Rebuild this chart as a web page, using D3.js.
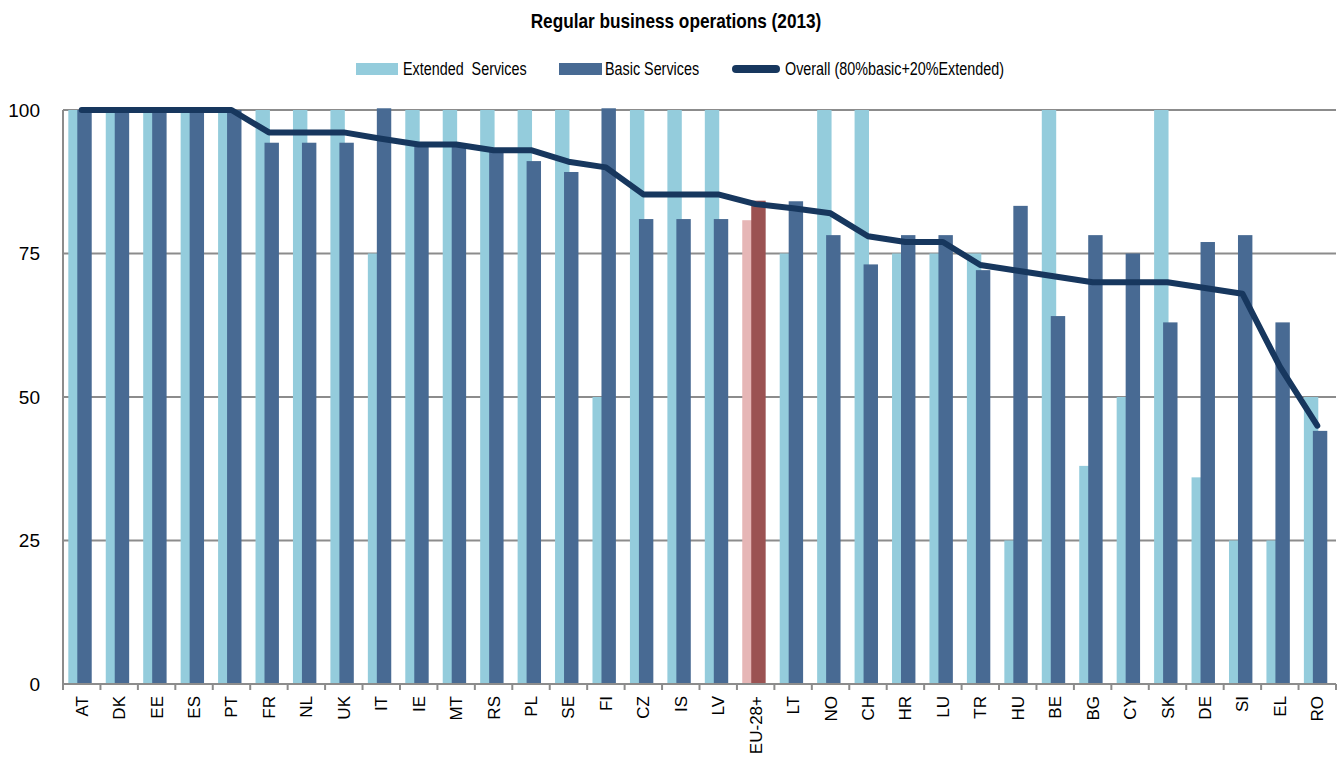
<!DOCTYPE html>
<html>
<head>
<meta charset="utf-8">
<script src="https://cdn.jsdelivr.net/npm/d3@7"></script>
<style>
  body { margin: 0; background: #fff; }
  svg text { font-family: "Liberation Sans", Arial, sans-serif; fill: #000; }
</style>
</head>
<body>
<svg id="chart" width="1338" height="760"></svg>
<script>
const countries = ["AT","DK","EE","ES","PT","FR","NL","UK","IT","IE","MT","RS","PL","SE","FI","CZ","IS","LV","EU-28+","LT","NO","CH","HR","LU","TR","HU","BE","BG","CY","SK","DE","SI","EL","RO"];
const extended = [100,100,100,100,100,100,100,100,75,100,100,100,100,100,50,100,100,100,80.8,75,100,100,75,75,75,25,100,38,50,100,36,25,25,50];
const basic = [100,100,100,100,100,94.3,94.3,94.3,100.3,93.6,93.6,92.8,91.1,89.2,100.3,81,81,81,84.2,84.1,78.2,73.1,78.2,78.2,72.1,83.3,64.1,78.2,75,63,77,78.2,63,44.1];
const overall = [100,100,100,100,100,96.1,96.1,96.1,95,94,94,93,93,91,90,85.3,85.3,85.3,83.6,82.9,82,78,77,77,73,72,71,70,70,70,69,68,55.3,45];
const yTicks = [0,25,50,75,100];

const svg = d3.select("#chart");
const margin = { left: 63, right: 2, top: 110, bottom: 76 };
const W = 1338, H = 760;
const narrow = 0.82; // squeeze factor to mimic a narrow font

const x = d3.scaleBand().domain(countries).range([margin.left, W - margin.right]).padding(0);
const y = d3.scaleLinear().domain([0, 100]).range([H - margin.bottom, margin.top]);

const colExt = "#94ccdc", colBasic = "#486a93";
const colExtEU = "#e6b6b6", colBasicEU = "#9b5252";
const colLine = "#17375e", colGrid = "#8c8c8c";

function narrowText(g, tx, ty, str, anchor) {
  return g.append("text")
    .attr("transform", `translate(${tx},${ty}) scale(${narrow},1)`)
    .attr("text-anchor", anchor || "start")
    .attr("xml:space", "preserve")
    .text(str);
}

// title
narrowText(svg, 676, 28, "Regular business operations (2013)", "middle")
  .attr("font-size", 21).attr("font-weight", "bold");

// gridlines
svg.append("g").selectAll("line").data(yTicks.filter(d => d > 0)).join("line")
  .attr("x1", margin.left).attr("x2", W - margin.right)
  .attr("y1", d => y(d)).attr("y2", d => y(d))
  .attr("stroke", colGrid).attr("stroke-width", 2);

// y labels
svg.append("g").selectAll("text").data(yTicks).join("text")
  .attr("x", 40).attr("y", d => y(d)).attr("dy", "0.35em").attr("text-anchor", "end")
  .attr("font-size", 19).text(d => d);

// bars
const bw = x.bandwidth();
const barW = bw * 0.385;
const gBars = svg.append("g");
gBars.selectAll("rect.ext").data(countries).join("rect").attr("class", "ext")
  .attr("x", (d) => x(d) + bw * 0.142).attr("width", barW)
  .attr("y", (d, i) => y(extended[i])).attr("height", (d, i) => y(0) - y(extended[i]))
  .attr("fill", d => d === "EU-28+" ? colExtEU : colExt);
gBars.selectAll("rect.basic").data(countries).join("rect").attr("class", "basic")
  .attr("x", (d) => x(d) + bw * 0.382).attr("width", barW)
  .attr("y", (d, i) => y(basic[i])).attr("height", (d, i) => y(0) - y(basic[i]))
  .attr("fill", d => d === "EU-28+" ? colBasicEU : colBasic);

// axes lines
svg.append("line").attr("x1", margin.left).attr("x2", margin.left)
  .attr("y1", y(100)).attr("y2", y(0)).attr("stroke", colGrid).attr("stroke-width", 2);
svg.append("line").attr("x1", margin.left).attr("x2", W - margin.right)
  .attr("y1", y(0)).attr("y2", y(0)).attr("stroke", colGrid).attr("stroke-width", 2);
svg.append("g").selectAll("line").data(countries.concat(["end"])).join("line")
  .attr("x1", (d, i) => margin.left + i * bw).attr("x2", (d, i) => margin.left + i * bw)
  .attr("y1", y(0)).attr("y2", y(0) + 6).attr("stroke", colGrid).attr("stroke-width", 2);

// x labels
svg.append("g").selectAll("text").data(countries).join("text")
  .attr("transform", d => `translate(${x(d) + bw / 2 + 6},696) rotate(-90)`)
  .attr("text-anchor", "end").attr("font-size", 17).text(d => d);

// overall line
const line = d3.line().x((d, i) => x(countries[i]) + bw / 2).y(d => y(d));
svg.append("path").datum(overall).attr("d", line)
  .attr("fill", "none").attr("stroke", colLine).attr("stroke-width", 6)
  .attr("stroke-linejoin", "round").attr("stroke-linecap", "round");

// legend
const lg = svg.append("g").attr("font-size", 17.5);
lg.append("rect").attr("x", 356).attr("y", 63).attr("width", 42).attr("height", 12).attr("fill", colExt);
narrowText(lg, 403, 75, "Extended  Services");
lg.append("rect").attr("x", 559).attr("y", 63).attr("width", 43).attr("height", 12).attr("fill", colBasic);
narrowText(lg, 605, 75, "Basic Services");
lg.append("line").attr("x1", 736).attr("x2", 776).attr("y1", 69).attr("y2", 69)
  .attr("stroke", colLine).attr("stroke-width", 8).attr("stroke-linecap", "round");
narrowText(lg, 785, 75, "Overall (80%basic+20%Extended)");
</script>
</body>
</html>
